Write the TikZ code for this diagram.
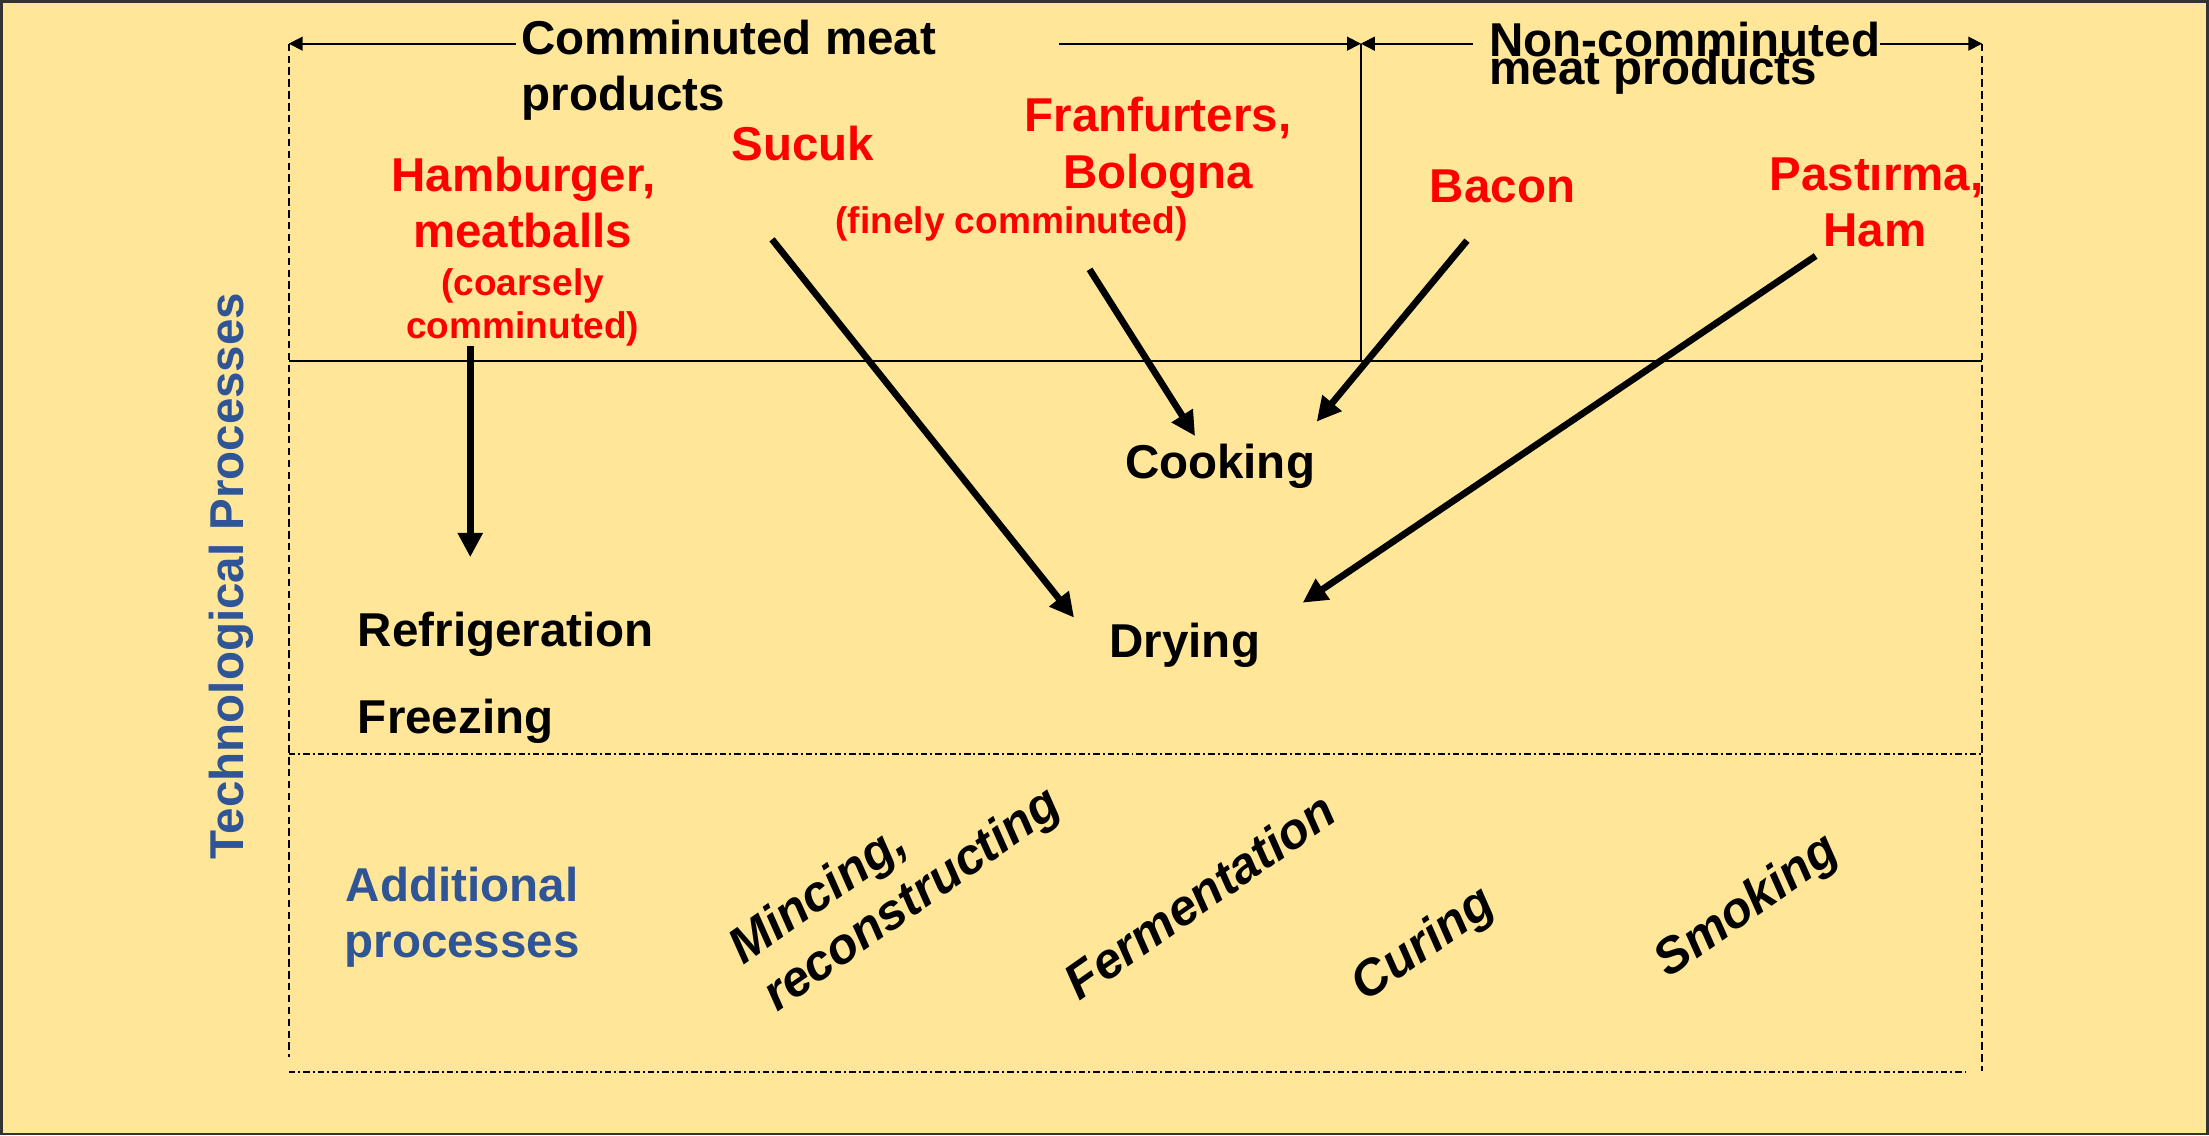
\documentclass[tikz,border=0pt]{standalone}
\usepackage{fontspec}
\setmainfont{Liberation Sans}
\usetikzlibrary{arrows.meta}
\definecolor{bgyellow}{RGB}{255,230,153}
\definecolor{frameline}{RGB}{51,51,51}
\definecolor{techblue}{RGB}{47,85,151}
\tikzset{
  txt/.style={inner sep=0pt, font=\fontsize{9.59}{11.5}\selectfont\bfseries},
  smalltxt/.style={inner sep=0pt, font=\fontsize{7.48}{9}\selectfont\bfseries},
  itxt/.style={inner sep=0pt, font=\fontsize{10.1}{12}\selectfont\bfseries\itshape, rotate=35, anchor=base west},
  prod/.style={text=red},
  flow/.style={line width=1.35pt, -{Triangle[length=4.9pt,width=4.8pt]}},
  dimarrow/.style={line width=0.35pt, -{Triangle[length=2.8pt,width=2.8pt]}},
  thinline/.style={line width=0.35pt},
  dashline/.style={line width=0.35pt, dash pattern=on 1.5pt off 0.9pt},
  dashdotline/.style={line width=0.35pt, dash pattern=on 1.3pt off 0.6pt on 0.4pt off 0.6pt},
}
\begin{document}
\begin{tikzpicture}[x=0.01cm,y=-0.01cm]
\useasboundingbox (0,0) rectangle (1568,806);
\draw[fill=bgyellow, draw=frameline, line width=0.57pt] (1,1) rectangle (1567,805);

% frame coordinates
\coordinate (TL) at (205,31);
\coordinate (TM) at (966,31);
\coordinate (TR) at (1407,31);
\coordinate (HL) at (205,256);
\coordinate (HM) at (966,256);
\coordinate (HR) at (1407,256);
\coordinate (LB) at (205,750);
\coordinate (RB) at (1407,760);
\coordinate (D1L) at (205,535);
\coordinate (D1R) at (1407,535);
\coordinate (D2L) at (205,761);
\coordinate (D2R) at (1395,761);
\coordinate (A1) at (366,31);
\coordinate (A2) at (752,31);
\coordinate (A3) at (1045.6,31);
\coordinate (A4) at (1334.5,31);

% lines
\draw[dashline] (TL) -- (LB);
\draw[dashline] (TR) -- (RB);
\draw[thinline] (TM) -- (HM);
\draw[thinline] (HL) -- (HR);
\draw[dashdotline] (D1L) -- (D1R);
\draw[dashdotline] (D2L) -- (D2R);
\draw[dimarrow] (A1) -- (TL);
\draw[dimarrow] (A2) -- (TM);
\draw[dimarrow] (A3) -- (TM);
\draw[dimarrow] (A4) -- (TR);

% headings
\node[txt, anchor=base west] (cm1) at (369.5,39) {Comminuted meat};
\node[txt, anchor=base west] (cm2) at (369.5,78.6) {products};
\node[txt, anchor=base west] (nc1) at (1056.6,40.2) {Non-comminuted};
\node[txt, anchor=base west] (nc2) at (1056.6,60.3) {meat products};

% products (red)
\node[txt, prod, anchor=base] (ham1) at (371.5,136) {Hamburger,};
\node[txt, prod, anchor=base] (ham2) at (371,175.5) {meatballs};
\node[smalltxt, prod, anchor=base] (ham3) at (371,209.4) {(coarsely};
\node[smalltxt, prod, anchor=base] (ham4) at (371,240) {comminuted)};
\node[txt, prod, anchor=base] (suc) at (570,113.6) {Sucuk};
\node[txt, prod, anchor=base] (fra1) at (822,93.5) {Franfurters,};
\node[txt, prod, anchor=base] (fra2) at (822,133.7) {Bologna};
\node[smalltxt, prod, anchor=base] (fra3) at (718,165.6) {(finely comminuted)};
\node[txt, prod, anchor=base] (bac) at (1066.5,143.9) {Bacon};
\node[txt, prod, anchor=base] (pas1) at (1332,135.4) {Pastırma,};
\node[txt, prod, anchor=base] (pas2) at (1331,175) {Ham};

% processes
\node[txt, anchor=base] (cook) at (866,340) {Cooking};
\node[txt, anchor=base] (dry) at (841,466.4) {Drying};
\node[txt, anchor=base west] (refr) at (253.4,459) {Refrigeration};
\node[txt, anchor=base west] (frz) at (253.4,520.5) {Freezing};

% blue labels
\node[txt, text=techblue, rotate=90, anchor=base] (tech) at (172.7,409) {Technological Processes};
\node[txt, text=techblue, anchor=base] (add1) at (328,640) {Additional};
\node[txt, text=techblue, anchor=base] (add2) at (328,680) {processes};

% additional processes (rotated)
\node[itxt] (min1) at (527,686) {Mincing,};
\node[itxt] (min2) at (551,719) {reconstructing};
\node[itxt] (ferm) at (766,711) {Fermentation};
\node[itxt] (cur) at (969,712) {Curing};
\node[itxt] (smo) at (1184,695) {Smoking};

% arrows
\coordinate (hamS) at (333.8,245.6);
\coordinate (hamE) at (333.8,395.5);
\coordinate (sucS) at (548,169.9);
\coordinate (sucE) at (762.4,438.4);
\coordinate (fraS) at (773.4,191.2);
\coordinate (fraE) at (848.3,309.5);
\coordinate (bacS) at (1041.3,170.8);
\coordinate (bacE) at (934.6,299.3);
\coordinate (pasS) at (1288.8,181.7);
\coordinate (pasE) at (924.7,427.8);
\draw[flow] (hamS) -- (hamE);
\draw[flow] (sucS) -- (sucE);
\draw[flow] (fraS) -- (fraE);
\draw[flow] (bacS) -- (bacE);
\draw[flow] (pasS) -- (pasE);
\end{tikzpicture}
\end{document}
